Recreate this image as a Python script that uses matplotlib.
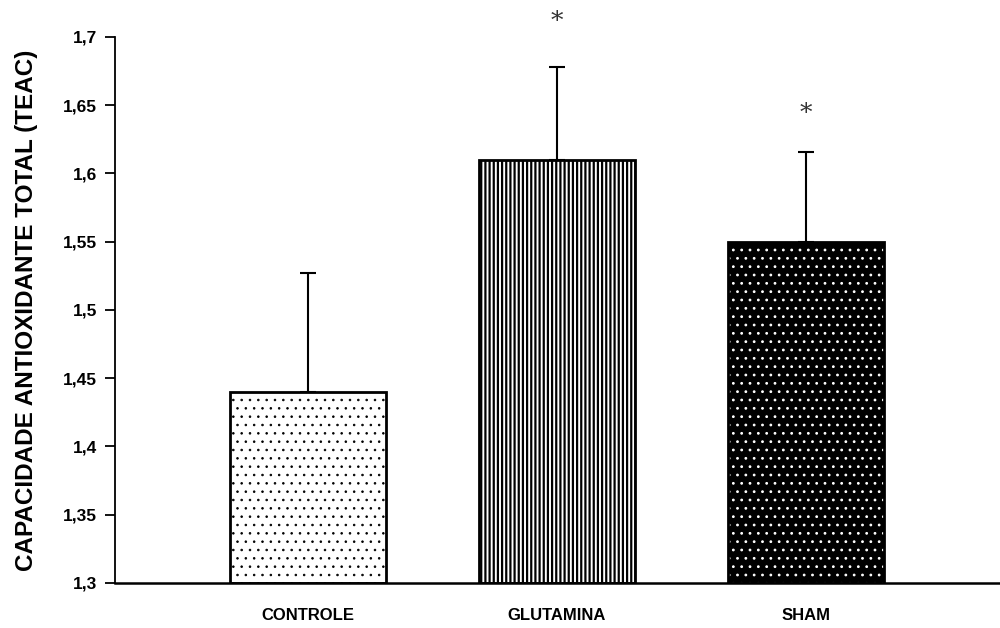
import matplotlib
matplotlib.use("Agg")
import matplotlib.pyplot as plt

categories = ["CONTROLE", "GLUTAMINA", "SHAM"]
means = [1.44, 1.61, 1.55]
errors = [0.087, 0.068, 0.066]
sig_y = [None, 1.711, 1.644]
yticks = [1.3, 1.35, 1.4, 1.45, 1.5, 1.55, 1.6, 1.65, 1.7]
ylabel = "CAPACIDADE ANTIOXIDANTE TOTAL (TEAC)"

plt.rcParams['font.family'] = ['Liberation Sans', 'DejaVu Sans']

fig = plt.figure(figsize=(10, 6.28), dpi=100)
ax = fig.add_axes([0.115, 0.0717, 0.885, 0.8694])

x = list(range(len(categories)))
width = 0.627
base = 1.3
heights = [m - base for m in means]

# CONTROLE: white with black dots
plt.rcParams['hatch.linewidth'] = 0.6
ax.bar(x[0], heights[0], width, bottom=base, facecolor='white', edgecolor='black',
       hatch='..', linewidth=0, zorder=2)
# GLUTAMINA: vertical lines
plt.rcParams['hatch.linewidth'] = 1.6
ax.bar(x[1], heights[1], width, bottom=base, facecolor='white', edgecolor='black',
       hatch='||||', linewidth=0, zorder=2)
# SHAM: black with white dots
plt.rcParams['hatch.linewidth'] = 0.8
ax.bar(x[2], heights[2], width, bottom=base, facecolor='black', edgecolor='white',
       hatch='..', linewidth=0, zorder=2)
# outlines
ax.bar(x, heights, width, bottom=base, facecolor='none', edgecolor='black',
       linewidth=2, zorder=3)

ax.errorbar(x, means, yerr=[[0]*3, errors], fmt='none', ecolor='black',
            elinewidth=1.5, capsize=6, capthick=1.5, zorder=1)

for xi, sy in zip(x, sig_y):
    if sy is not None:
        ax.text(xi, sy, "*", ha='center', va='center', fontsize=18,
                fontfamily='DejaVu Serif', color='#333333', clip_on=False)

ax.set_ylim(1.3, 1.7)
ax.set_xlim(-0.775, 2.78)
ax.set_yticks(yticks)
ax.set_yticklabels([f"{t:g}".replace('.', ',') for t in yticks],
                   fontsize=12.5, fontweight='bold')
ax.set_xticks(x)
ax.set_xticklabels(categories, fontsize=12, fontweight='bold')
ax.tick_params(axis='x', length=0, pad=18)
ax.tick_params(axis='y', length=7, width=1.3, direction='out', pad=6)
ax.set_ylabel(ylabel, fontsize=17.5, fontweight='bold', labelpad=18)

for s in ['top', 'right']:
    ax.spines[s].set_visible(False)
ax.spines['left'].set_linewidth(1.3)
ax.spines['bottom'].set_linewidth(1.8)

fig.savefig("out.png", dpi=100)
